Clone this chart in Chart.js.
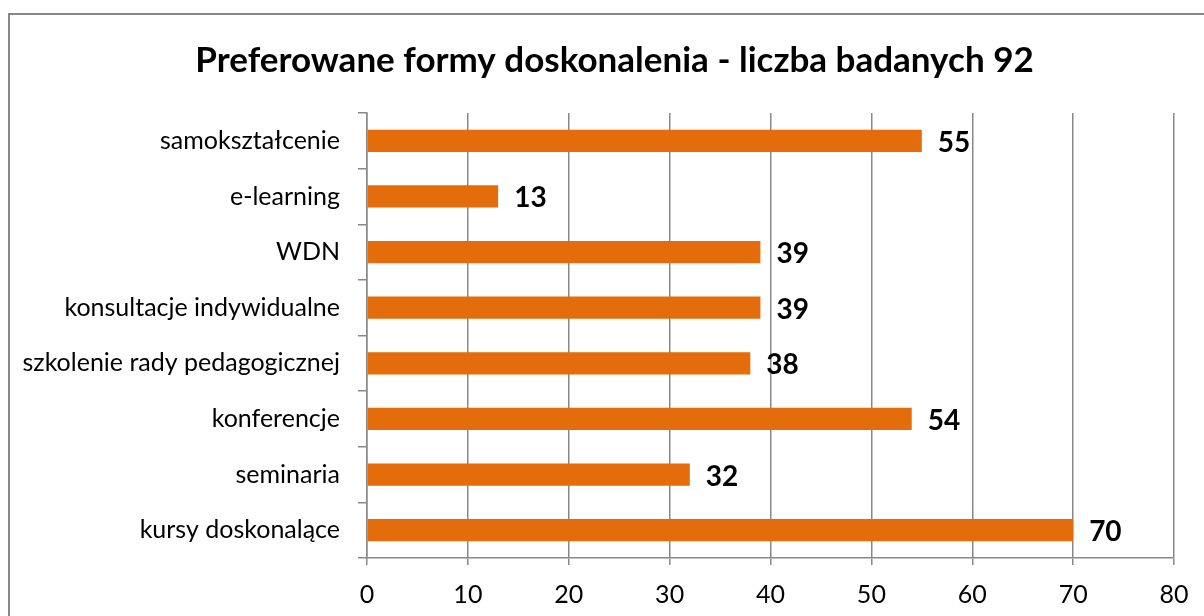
<!DOCTYPE html>
<html>
<head>
<meta charset="utf-8">
<script src="https://cdn.jsdelivr.net/npm/chart.js@4.4.1/dist/chart.umd.min.js"></script>
<style>
  html, body { margin: 0; padding: 0; background: #fff; overflow: hidden; }
  #frame {
    position: absolute; left: 8px; top: 13px;
    width: 1220px; height: 640px;
    border: 2px solid #888; box-sizing: border-box;
  }
  #wrap { position: absolute; left: 0; top: 0; width: 1204px; height: 616px; }
</style>
</head>
<body>
<div id="frame"></div>
<div id="wrap"><canvas id="chart"></canvas></div>
<script>
const categories = ['samokształcenie', 'e-learning', 'WDN', 'konsultacje indywidualne',
  'szkolenie rady pedagogicznej', 'konferencje', 'seminaria', 'kursy doskonalące'];
const counts = [55, 13, 39, 39, 38, 54, 32, 70];
const xTicks = [0, 10, 20, 30, 40, 50, 60, 70, 80];

const FONT = 'Lato, "Open Sans", sans-serif';
const GRAY = '#888888';

// value labels to the right of each bar
const barLabels = {
  id: 'barLabels',
  afterDatasetsDraw(chart) {
    const ctx = chart.ctx;
    const meta = chart.getDatasetMeta(0);
    ctx.save();
    ctx.font = 'bold 28px ' + FONT;
    ctx.fillStyle = '#000';
    ctx.textAlign = 'left';
    ctx.textBaseline = 'middle';
    meta.data.forEach((bar, i) => {
      ctx.fillText(counts[i], bar.x + 16, bar.y + 2);
    });
    ctx.restore();
  }
};

// the title in the original sits a bit right of the canvas centre
const titleShift = {
  id: 'titleShift',
  afterLayout(chart) {
    if (chart.titleBlock) chart.titleBlock.left += 55;
  }
};

new Chart(document.getElementById('chart'), {
  type: 'bar',
  data: {
    labels: categories,
    datasets: [{
      data: counts,
      backgroundColor: '#E46C0A',
      borderWidth: 0,
      categoryPercentage: 1,
      barPercentage: 0.4
    }]
  },
  options: {
    indexAxis: 'y',
    responsive: true,
    maintainAspectRatio: false,
    animation: false,
    layout: { padding: { left: 0, right: 30, top: 0, bottom: 0 } },
    plugins: {
      legend: { display: false },
      tooltip: { enabled: false },
      title: {
        display: true,
        text: 'Preferowane formy doskonalenia - liczba badanych 92',
        color: '#000',
        font: { family: FONT, size: 35, weight: 'bold' },
        padding: { top: 40, bottom: 31 }
      }
    },
    scales: {
      x: {
        min: 0,
        max: 80,
        afterBuildTicks(axis) { axis.ticks = xTicks.map(v => ({ value: v })); },
        afterFit(axis) { axis.height = 58; },
        grid: { color: GRAY, lineWidth: 1.5, tickLength: 7 },
        border: { color: GRAY, width: 1.5 },
        ticks: { color: '#000', padding: 15, font: { family: FONT, size: 25 } }
      },
      y: {
        afterFit(axis) { axis.width = 367; },
        grid: { drawOnChartArea: false, offset: true, color: GRAY, lineWidth: 1.5, tickLength: 9 },
        border: { color: GRAY, width: 1.5 },
        ticks: { color: '#000', padding: 18, font: { family: FONT, size: 25 } }
      }
    }
  },
  plugins: [barLabels, titleShift]
});
</script>
</body>
</html>
